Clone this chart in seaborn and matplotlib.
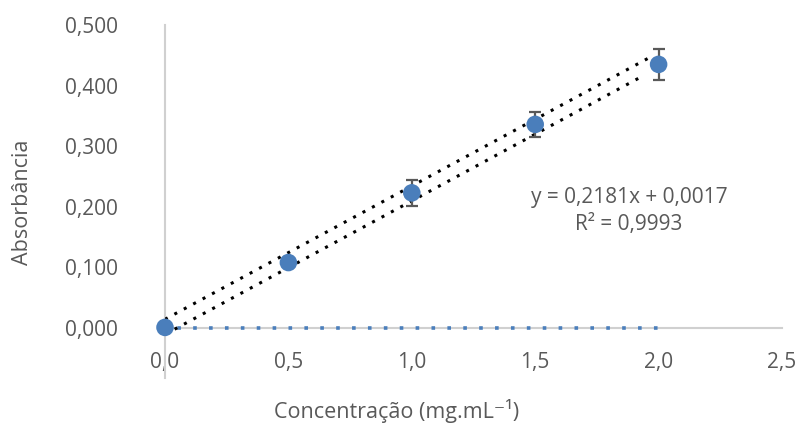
import numpy as np
import matplotlib
matplotlib.use("Agg")
import matplotlib.pyplot as plt
import seaborn as sns

# dados
concentracao = [0.0, 0.5, 1.0, 1.5, 2.0]
absorbancia = [0.001, 0.108, 0.223, 0.336, 0.435]
desvio = [0.0, 0.0, 0.021, 0.020, 0.025]

branco_x = [0.0, 2.0]
branco_y = [0.0, 0.0]

# duas linhas de tendência pontilhadas (inclinação, intercepto, x inicial, x final)
tend_sup = (0.2200, 0.0144, 0.0, 1.98)
tend_inf = (0.2203, -0.0106, 0.039, 1.943)

equacao = "y = 0,2181x + 0,0017"
r2 = "R² = 0,9993"

y_ticks = [0.0, 0.1, 0.2, 0.3, 0.4, 0.5]
x_ticks = [0.0, 0.5, 1.0, 1.5, 2.0, 2.5]

azul = "#4a7ebb"
cinza_txt = "#595959"
cinza_eixo = "#d0d0d0"

sns.set_theme(style="white")
plt.rcParams["font.family"] = ["Open Sans", "DejaVu Sans"]

fig = plt.figure(figsize=(7.98, 4.23), dpi=100)
ax = fig.add_axes([165 / 798, 1 - 378 / 423, 617 / 798, 353 / 423])

# linha do branco (azul pontilhada)
sns.lineplot(x=branco_x, y=branco_y, ax=ax, color=azul, lw=2.6,
             linestyle=(1.0, (1, 3.4)), zorder=2)

for m, b, x0, x1 in [tend_sup, tend_inf]:
    xs = np.array([x0, x1])
    ax.plot(xs, m * xs + b, color="black", lw=2.2, linestyle=(0, (1, 2.5)), zorder=3)

ax.errorbar(concentracao, absorbancia, yerr=desvio, fmt="none", ecolor=cinza_txt,
            elinewidth=1.6, capsize=4.2, capthick=1.6, zorder=4, clip_on=False)
sns.scatterplot(x=concentracao, y=absorbancia, ax=ax, color=azul, s=160,
                edgecolor="none", zorder=5, clip_on=False)

ax.set_xlim(0, 2.5)
ax.set_ylim(-0.0825, 0.5)

ax.set_yticks(y_ticks)
ax.set_yticklabels([f"{v:.3f}".replace(".", ",") for v in y_ticks])
ax.set_xticks(x_ticks)
ax.set_xticklabels([f"{v:.1f}".replace(".", ",") for v in x_ticks])

for s in ["top", "right"]:
    ax.spines[s].set_visible(False)
ax.spines["bottom"].set_position(("data", 0))
ax.spines["bottom"].set_color(cinza_eixo)
ax.spines["left"].set_color(cinza_eixo)
ax.spines["bottom"].set_linewidth(1.5)
ax.spines["left"].set_linewidth(1.5)
ax.spines["bottom"].set_zorder(1)

ax.tick_params(axis="y", length=0, pad=34, labelsize=15, labelcolor=cinza_txt)
ax.tick_params(axis="x", length=0, pad=17, labelsize=15, labelcolor=cinza_txt)
ax.grid(False)

ax.text(1.88, 0.216, equacao, ha="center", va="center", fontsize=15, color=cinza_txt)
ax.text(1.88, 0.170, r2, ha="center", va="center", fontsize=15, color=cinza_txt)

fig.text(23 / 798, 1 - 202 / 423, "Absorbância", rotation=90, ha="center", va="center",
         fontsize=15.5, color=cinza_txt)
fig.text(397 / 798, 1 - 411 / 423, "Concentração (mg.mL⁻¹)", ha="center", va="center",
         fontsize=15.5, color=cinza_txt)

fig.savefig("out.png", dpi=100)
